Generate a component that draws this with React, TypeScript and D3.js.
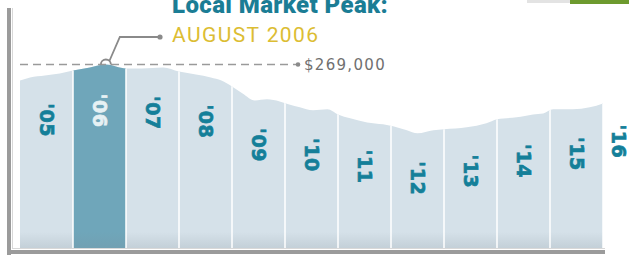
import React from "react";
import * as d3 from "d3";

// median price, sampled along the year (fractional year -> price)
const years = [
  2005.0, 2005.19, 2005.47, 2005.75, 2006.0, 2006.32, 2006.62, 2007.0, 2007.3, 2007.7,
  2008.0, 2008.32, 2008.6, 2008.8, 2009.0, 2009.2, 2009.43, 2009.66, 2009.9, 2010.08,
  2010.28, 2010.53, 2010.8, 2011.0, 2011.23, 2011.55, 2011.85, 2012.04, 2012.3, 2012.5,
  2012.8, 2013.0, 2013.43, 2013.8, 2014.0, 2014.37, 2014.68, 2014.87, 2015.06, 2015.43,
  2015.75, 2016.0,
];
const prices = [
  256000, 258500, 260100, 261700, 264100, 266600, 269000, 265800, 265800, 266600,
  263300, 260900, 258500, 256000, 251200, 245500, 239800, 240700, 239000, 236600,
  234200, 231800, 232600, 228500, 225300, 222000, 220400, 218800, 215600, 213100,
  215600, 216400, 218000, 221200, 224500, 226100, 228500, 229300, 232600, 232600,
  234200, 237400,
];
const yearLabels = ["'05", "'06", "'07", "'08", "'09", "'10", "'11", "'12", "'13", "'14", "'15", "'16"];
const peakYear = 2006;
const peakPrice = 269000;
const peakLabel = "$269,000";
const titleText = "Local Market Peak:";
const subtitleText = "AUGUST 2006";

const W = 629;
const H = 256;

export default function App() {
  const data = years.map((y, i) => ({ t: y, v: prices[i] }));
  const x = d3.scaleLinear().domain([2005, 2016]).range([20, 603]);
  const y = d3.scaleLinear().domain([120000, peakPrice]).range([248, 64.5]);
  const base = 248;

  const area = d3
    .area<{ t: number; v: number }>()
    .x((d) => x(d.t))
    .y0(base)
    .y1((d) => y(d.v))
    .curve(d3.curveMonotoneX);

  const valueAt = (t: number) => {
    const i = d3.bisector((d: { t: number }) => d.t).left(data, t);
    if (i <= 0) return data[0].v;
    if (i >= data.length) return data[data.length - 1].v;
    const a = data[i - 1];
    const b = data[i];
    return a.v + ((b.v - a.v) * (t - a.t)) / (b.t - a.t);
  };

  const peakPt = data.reduce((m, d) => (d.v > m.v ? d : m), data[0]);
  const px = x(peakPt.t);
  const py = y(peakPt.v);

  const bounds = d3.range(2006, 2017);

  return (
    <div style={{ position: "absolute", left: 0, top: 0 }}>
      <svg width={W} height={H} style={{ display: "block" }}>
        <defs>
          <clipPath id="areaClip">
            <path d={area(data) || ""} />
          </clipPath>
          <linearGradient id="shade" x1="0" y1="0" x2="0" y2="1">
            <stop offset="0" stopColor="#7d8a94" stopOpacity="0" />
            <stop offset="1" stopColor="#7d8a94" stopOpacity="0.2" />
          </linearGradient>
        </defs>

        {/* top-right decoration */}
        <rect x={527} y={0} width={44} height={3} fill="#e3e3e3" />
        <rect x={570} y={0} width={59} height={4} fill="#6d9a2e" />

        {/* frame */}
        <rect x={7} y={8} width={4} height={247} fill="#9b9b9b" />
        <rect x={7} y={250} width={598} height={4} fill="#9b9b9b" />
        <rect x={12} y={8} width={1} height={241} fill="#d8d8d8" />
        <rect x={12} y={248} width={593} height={1} fill="#d8d8d8" />

        {/* area */}
        <path d={area(data) || ""} fill="#d5e1e9" />
        <g clipPath="url(#areaClip)">
          <rect
            x={x(peakYear)}
            y={0}
            width={x(peakYear + 1) - x(peakYear)}
            height={base}
            fill="#6fa6ba"
          />
          <rect x={20} y={base - 16} width={585} height={16} fill="url(#shade)" />
          {bounds.map((b) => (
            <line
              key={b}
              x1={x(b)}
              x2={x(b)}
              y1={0}
              y2={base}
              stroke="#ffffff"
              strokeWidth={1.5}
            />
          ))}
        </g>

        {/* year labels */}
        {yearLabels.map((lab, i) => {
          const yr = 2005 + i;
          const last = i === yearLabels.length - 1;
          const cx = last ? x(yr) + 16 : x(yr + 0.5);
          const top = y(valueAt(last ? yr : yr + 0.5)) + (last ? 21 : 28);
          const col = yr === peakYear ? "#e6f1f4" : "#147f99";
          return (
            <text
              key={lab}
              transform={`translate(${cx - 7},${top}) rotate(90)`}
              fontFamily="DejaVu Sans"
              fontWeight="bold"
              fontSize={19}
              letterSpacing={0.5}
              fill={col}
              stroke={col}
              strokeWidth={0.7}
            >
              {lab}
            </text>
          );
        })}

        {/* peak dashed line */}
        <line
          x1={20}
          x2={297}
          y1={y(peakPrice)}
          y2={y(peakPrice)}
          stroke="#9a9a9a"
          strokeWidth={1.5}
          strokeDasharray="8 5"
        />
        <circle cx={298} cy={y(peakPrice)} r={2.3} fill="#8a8a8a" />
        <text
          x={304}
          y={y(peakPrice) + 5.5}
          fontFamily="DejaVu Sans"
          fontSize={15}
          letterSpacing={1.3}
          fill="#707070"
        >
          {peakLabel}
        </text>

        {/* callout */}
        <path
          d={`M${px - 5},${py} A5,5 0 0 1 ${px + 5},${py}`}
          fill="none"
          stroke="#8a8a8a"
          strokeWidth={1.8}
        />
        <polyline
          points={`${px + 3.5},${py - 3.5} ${px + 14},${37} ${160},${37}`}
          fill="none"
          stroke="#8a8a8a"
          strokeWidth={1.8}
        />
        <circle cx={160} cy={37} r={2.6} fill="#8a8a8a" />

        {/* titles */}
        <text
          x={172}
          y={13}
          fontFamily="Roboto"
          fontWeight={900}
          fontSize={24}
          letterSpacing={0.4}
          fill="#1b7d95"
        >
          {titleText}
        </text>
        <text
          x={172}
          y={42}
          fontFamily="Roboto"
          fontSize={21}
          letterSpacing={1.4}
          fill="#dcbd33"
        >
          {subtitleText}
        </text>
      </svg>
    </div>
  );
}
